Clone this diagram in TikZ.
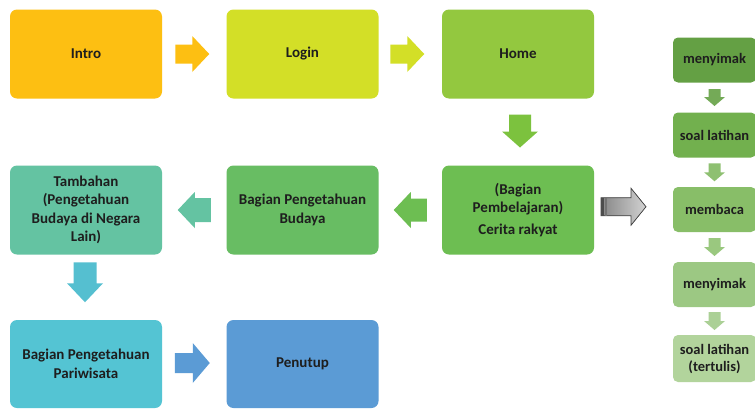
\documentclass[tikz,border=0pt]{standalone}
\usepackage{fontspec}
\setmainfont{Carlito}
\usetikzlibrary{calc}
\definecolor{cIntro}{HTML}{FDBF12}
\definecolor{cLogin}{HTML}{D3DF27}
\definecolor{cHome}{HTML}{93C83F}
\definecolor{cHomeArr}{HTML}{7CC23E}
\definecolor{cCerita}{HTML}{6DBE52}
\definecolor{cBudaya}{HTML}{68BD63}
\definecolor{cTambah}{HTML}{64C3A2}
\definecolor{cPari}{HTML}{54C4D3}
\definecolor{cPariArr}{HTML}{55BFD0}
\definecolor{cTutup}{HTML}{5B9BD5}
\definecolor{rA}{HTML}{64A044}
\definecolor{rB}{HTML}{72B04E}
\definecolor{rC}{HTML}{88BE68}
\definecolor{rD}{HTML}{9CC883}
\definecolor{rE}{HTML}{B2D49C}
\definecolor{txt}{HTML}{1E1E1E}
\newcommand\blockarrow[7]{%
  \fill[#7, shift={#1}, rotate=#2]
    ({-(#3)/2},{-(#4)/2}) -- ({(#3)/2-(#6)},{-(#4)/2}) -- ({(#3)/2-(#6)},{-(#5)/2})
    -- ({(#3)/2},0) -- ({(#3)/2-(#6)},{(#5)/2}) -- ({(#3)/2-(#6)},{(#4)/2})
    -- ({-(#3)/2},{(#4)/2}) -- cycle;}
\tikzset{
  mainbox/.style={rounded corners=7pt, minimum width=152pt, minimum height=89pt,
    align=center, inner sep=0pt, text=txt,
    font=\bfseries\fontsize{15}{18.5}\selectfont},
  sidebox/.style={rounded corners=5pt, minimum width=83pt, minimum height=45pt,
    align=center, inner sep=0pt, text=txt,
    font=\bfseries\fontsize{14.5}{17}\selectfont},
}
\begin{document}
\begin{tikzpicture}[x=1pt,y=-1pt]
\useasboundingbox (0,0) rectangle (755,410);
\fill[white] (0,0) rectangle (755,410);
% main boxes
\node[mainbox, fill=cIntro] (intro) at (86,54) {Intro};
\node[mainbox, fill=cLogin] (login) at (302.5,54) {Login};
\node[mainbox, fill=cHome] (home) at (518,54) {Home};
\node[mainbox, fill=cTambah] (tambah) at (86,210) {Tambahan\\(Pengetahuan\\Budaya di Negara\\Lain)};
\node[mainbox, fill=cBudaya] (budaya) at (302.5,210) {Bagian Pengetahuan\\Budaya};
\node[mainbox, fill=cCerita] (cerita) at (518,210) {(Bagian\\Pembelajaran)\\[3pt]Cerita rakyat};
\node[mainbox, fill=cPari, minimum height=88pt] (pari) at (86,364) {Bagian Pengetahuan\\Pariwisata};
\node[mainbox, fill=cTutup, minimum height=88pt] (tutup) at (302.5,364) {Penutup};
% side column
\node[sidebox, fill=rA] (s1) at (714.5,60) {menyimak};
\node[sidebox, fill=rB] (s2) at (714.5,135) {soal latihan};
\node[sidebox, fill=rC] (s3) at (714.5,209.5) {membaca};
\node[sidebox, fill=rD] (s4) at (714.5,284.5) {menyimak};
\node[sidebox, fill=rE, minimum height=47pt] (s5) at (714.5,358.5) {soal latihan\\(tertulis)};
% block arrows
\blockarrow{($(intro.east)!0.5!(login.west)+(-2,0)$)}{0}{34}{19}{36}{17}{cIntro}
\blockarrow{($(login.east)!0.5!(home.west)+(-3,0)$)}{0}{34}{19}{36}{17}{cLogin}
\blockarrow{($(home.south)!0.5!(cerita.north)+(2,-1)$)}{-90}{33}{22}{36}{16}{cHomeArr}
\blockarrow{($(cerita.west)!0.5!(budaya.east)+(0,0)$)}{180}{33}{23}{36}{17}{cCerita}
\blockarrow{($(budaya.west)!0.5!(tambah.east)+(0,0)$)}{180}{33}{24}{36}{17}{cTambah}
\blockarrow{($(tambah.south)!0.5!(pari.north)+(-1,-5)$)}{-90}{40}{23}{36}{19}{cPariArr}
\blockarrow{($(pari.east)!0.5!(tutup.west)+(-2,-1)$)}{0}{35}{20}{40}{17}{cTutup}
% side small arrows
\blockarrow{($(s1.south)!0.5!(s2.north)+(0,0)$)}{-90}{17}{12}{21}{9}{rA!90!white}
\blockarrow{($(s2.south)!0.5!(s3.north)+(0,0)$)}{-90}{18}{12}{21}{9}{rB!80!white}
\blockarrow{($(s3.south)!0.5!(s4.north)+(0,0)$)}{-90}{18}{12}{21}{9}{rC!85!white}
\blockarrow{($(s4.south)!0.5!(s5.north)+(0,0)$)}{-90}{18}{12}{21}{9}{rD!85!white}
% grey arrow
\coordinate (g) at ($(cerita.east)!0.5!(s3.west)+(-10,-3)$);
\blockarrow{(g)}{0}{45}{18}{37}{15}{left color=gray!95, right color=gray!35, draw=black!75, line width=0.7pt}
\fill[black!70] ($(g)+(-22.5,-9)$) rectangle ($(g)+(-19.5,9)$);
\fill[black!55] ($(g)+(-18.5,-9)$) rectangle ($(g)+(-16.5,9)$);
\end{tikzpicture}
\end{document}
